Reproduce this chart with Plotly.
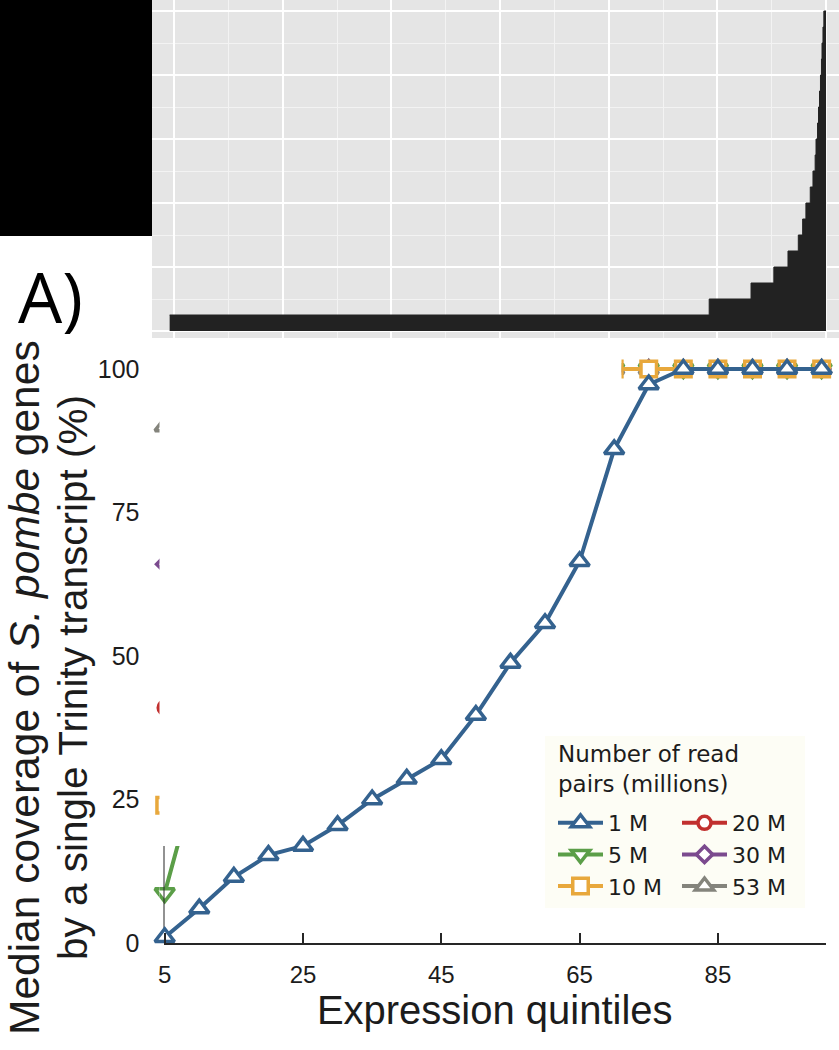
import plotly.graph_objects as go

W, H = 839, 1050
FONT = "Liberation Sans, Arial, sans-serif"
KEY_FONT = "DejaVu Sans, sans-serif"
INK = "#1c1c1c"

# Lower panel: median coverage (%) of genes by a single transcript, per expression quintile
quintiles = [5, 10, 15, 20, 25, 30, 35, 40, 45, 50, 55, 60, 65, 70, 75, 80, 85, 90, 95, 100]
cov_1m = [1, 6, 11.5, 15.3, 16.9, 20.5, 25, 28.6, 32, 39.7, 48.8, 55.7, 66.5, 86, 97.3,
          100, 100, 100, 100, 100]
cov_5m = [8.7, 37, 60, 75, 83, 88, 92, 95, 97, 98, 99, 100, 100, 100, 100,
          100, 100, 100, 100, 100]
cov_10m = [24, 62, 80, 90, 94, 96, 98, 99, 100, 100, 100, 100, 100, 100, 100,
           100, 100, 100, 100, 100]
cov_20m = [41, 80, 93, 97, 99, 100, 100, 100, 100, 100, 100, 100, 100, 100, 100,
           100, 100, 100, 100, 100]
cov_30m = [66, 92, 98, 100, 100, 100, 100, 100, 100, 100, 100, 100, 100, 100, 100,
           100, 100, 100, 100, 100]
cov_53m = [90, 99, 100, 100, 100, 100, 100, 100, 100, 100, 100, 100, 100, 100, 100,
           100, 100, 100, 100, 100]

series_names = ["1 M", "5 M", "10 M", "20 M", "30 M", "53 M"]
series_values = [cov_1m, cov_5m, cov_10m, cov_20m, cov_30m, cov_53m]
series_colors = ["#34628f", "#5b9e48", "#e8a83c", "#c1302f", "#7b4a8e", "#84847c"]
series_symbols = ["triangle-up", "triangle-down", "square", "circle", "diamond", "triangle-up"]
series_sizes = [17, 17, 15.5, 13, 12.5, 17]

# Upper panel: sorted step profile
rank_edges = [-40, 4925, 5310, 5520, 5650, 5745, 5785, 5815, 5855, 5880, 5900,
              5908, 5922, 5931, 5940, 5949, 5958, 5963, 5972, 5980, 6000]
step_heights = [1, 2, 3, 4, 5, 6, 7, 8, 9, 10, 11, 12, 13, 14, 15, 16, 17, 18, 19, 20]


def xdom(a, b):
    return [a / W, b / W]


def ydom(top, bottom):
    return [1 - bottom / H, 1 - top / H]


# pixel scale of the quintile chart
QX_PX0, QX_PER = 164.7, 6.915   # x = 5 sits at QX_PX0
QY_PX0, QY_PER = 943.0, 5.74    # y = 0 sits at QY_PX0


def qx(a, b):
    return [5 + (a - QX_PX0) / QX_PER, 5 + (b - QX_PX0) / QX_PER]


def qy(top, bottom):
    return [(QY_PX0 - bottom) / QY_PER, (QY_PX0 - top) / QY_PER]


# pixel scale of the upper panel
TX_PX0, TX_PER = 174.0, 0.10867
TY_PX0, TY_PER = 331.0, 16.0


def tx(a, b):
    return [(a - TX_PX0) / TX_PER, (b - TX_PX0) / TX_PER]


def ty(top, bottom):
    return [(TY_PX0 - bottom) / TY_PER, (TY_PX0 - top) / TY_PER]


# plot boxes (x0, x1, top, bottom) in pixels
MAIN = (163.5, 826, 340, 943)
LEFT = (100, 159.5, 340, 960)
LOW = (159.5, 839, 846, 960)
RIGHT = (621.5, 839, 340, 960)
TOP = (152, 839, 0, 338)


def series_marker(i):
    return dict(symbol=series_symbols[i], size=series_sizes[i], color="white",
                line=dict(color=series_colors[i], width=3.5))


fig = go.Figure()

# the higher read depths, drawn in the three open windows around the 1 M curve
draw_order = [5, 4, 3, 1, 2]
for k, ax in enumerate(["", "2", "3"]):
    for i in draw_order:
        fig.add_trace(go.Scatter(
            x=quintiles, y=series_values[i], name=series_names[i],
            mode="lines+markers", xaxis="x" + ax, yaxis="y" + ax,
            line=dict(color=series_colors[i], width=4), marker=series_marker(i),
            legendgroup=series_names[i], showlegend=(k == 0),
            legend="legend" if i < 3 else "legend2", legendrank=i + 1,
            cliponaxis=True, hoverinfo="skip",
        ))

# upper panel step area
fig.add_trace(go.Scatter(
    x=rank_edges, y=step_heights + [step_heights[-1]],
    mode="lines", line=dict(color="#222222", width=1, shape="hv"),
    fill="tozeroy", fillcolor="#222222",
    xaxis="x4", yaxis="y4", showlegend=False, hoverinfo="skip",
))

# 1 M curve on top
fig.add_trace(go.Scatter(
    x=quintiles, y=cov_1m, name=series_names[0], mode="lines+markers",
    xaxis="x5", yaxis="y5",
    line=dict(color=series_colors[0], width=4), marker=series_marker(0),
    legendgroup=series_names[0], legend="legend", legendrank=1,
    cliponaxis=False, hoverinfo="skip",
))

hidden = dict(visible=False, showgrid=False, zeroline=False, automargin=False)
main_x = qx(MAIN[0], MAIN[1])
low_y = qy(LOW[2], LOW[3])
key_style = dict(xanchor="left", yanchor="top", orientation="v",
                 bgcolor="rgba(0,0,0,0)", borderwidth=0,
                 font=dict(size=22, family=KEY_FONT, color=INK), itemwidth=45,
                 tracegroupgap=4, traceorder="normal")

fig.update_layout(
    template="none",
    width=W, height=H, margin=dict(l=0, r=0, t=0, b=0, autoexpand=False),
    paper_bgcolor="white", plot_bgcolor="rgba(0,0,0,0)",
    font=dict(family=FONT, color=INK),
    xaxis=dict(domain=xdom(*LEFT[:2]), range=qx(*LEFT[:2]), anchor="y", **hidden),
    yaxis=dict(domain=ydom(*LEFT[2:]), range=qy(*LEFT[2:]), anchor="x", **hidden),
    xaxis2=dict(domain=xdom(*LOW[:2]), range=qx(*LOW[:2]), anchor="y2", **hidden),
    yaxis2=dict(domain=ydom(*LOW[2:]), range=qy(*LOW[2:]), anchor="x2", **hidden),
    xaxis3=dict(domain=xdom(*RIGHT[:2]), range=qx(*RIGHT[:2]), anchor="y3", **hidden),
    yaxis3=dict(domain=ydom(*RIGHT[2:]), range=qy(*RIGHT[2:]), anchor="x3", **hidden),
    xaxis4=dict(domain=xdom(*TOP[:2]), range=tx(*TOP[:2]), anchor="y4", automargin=False,
                showticklabels=False, ticks="", zeroline=False, showline=False,
                tick0=0, dtick=1000, showgrid=True, gridcolor="white", gridwidth=2,
                minor=dict(showgrid=True, gridcolor="#f3f3f3", gridwidth=1, dtick=500)),
    yaxis4=dict(domain=ydom(*TOP[2:]), range=ty(*TOP[2:]), anchor="x4", automargin=False,
                showticklabels=False, ticks="", zeroline=False, showline=False,
                tick0=0, dtick=4, showgrid=True, gridcolor="white", gridwidth=2,
                minor=dict(showgrid=True, gridcolor="#f3f3f3", gridwidth=1, dtick=2)),
    xaxis5=dict(domain=xdom(*MAIN[:2]), range=main_x, anchor="y5", automargin=False,
                showgrid=False, zeroline=False,
                showline=True, linecolor="#262626", linewidth=2,
                ticks="inside", ticklen=10, tickwidth=2, tickcolor="#262626",
                tickvals=[5, 25, 45, 65, 85], ticktext=["5", "25", "45", "65", "85"],
                tickfont=dict(size=24, color=INK), ticklabelstandoff=9,
                title=dict(text="Expression quintiles", font=dict(size=40, color=INK),
                           standoff=3)),
    yaxis5=dict(domain=ydom(*MAIN[2:]), range=qy(*MAIN[2:]), anchor="x5", automargin=False,
                showgrid=False, zeroline=False, showline=False, ticks="",
                tickvals=[0, 25, 50, 75, 100],
                tickfont=dict(size=25, color=INK), ticklabelstandoff=23),
    legend=dict(x=553 / W, y=1 - 802 / H, **key_style),
    legend2=dict(x=677 / W, y=1 - 802 / H, **key_style),
)

shapes = [
    # grey panel background
    dict(type="rect", xref="x4 domain", yref="y4 domain", x0=0, x1=1, y0=0, y1=1,
         fillcolor="#e5e5e5", line=dict(width=0), layer="below"),
    # black block in the upper-left corner
    dict(type="rect", xref="paper", yref="paper", x0=0, x1=152 / W,
         y0=1 - 236 / H, y1=1, fillcolor="black", line=dict(width=0), layer="above"),
    # legend box
    dict(type="rect", xref="paper", yref="paper", x0=545 / W, x1=805 / W,
         y0=1 - 908 / H, y1=1 - 736 / H, fillcolor="#fdfdf5", line=dict(width=0),
         layer="above"),
    # visible stretch of the y axis line
    dict(type="line", xref="x5", yref="y5", x0=main_x[0], x1=main_x[0],
         y0=0, y1=low_y[1], line=dict(color="#262626", width=2), layer="below"),
]
fig.update_layout(shapes=shapes)

# legend heading
fig.add_annotation(text="Number of read<br>pairs (millions)", xref="paper", yref="paper",
                   x=556 / W, y=1 - 769 / H, xanchor="left", yanchor="middle", align="left",
                   showarrow=False, font=dict(family=KEY_FONT, size=23, color=INK))
fig.add_annotation(text="A)", xref="paper", yref="paper", x=16 / W, y=1 - 296 / H,
                   xanchor="left", yanchor="middle", showarrow=False,
                   font=dict(family="Open Sans, sans-serif", size=70, color="black"))
fig.add_annotation(text="Median coverage of <i>S. pombe</i> genes", textangle=-90,
                   xref="paper", yref="paper", x=24 / W, y=1 - 688 / H,
                   xanchor="center", yanchor="middle", showarrow=False,
                   font=dict(size=42.5, color=INK))
fig.add_annotation(text="by a single Trinity transcript (%)", textangle=-90,
                   xref="paper", yref="paper", x=73 / W, y=1 - 678 / H,
                   xanchor="center", yanchor="middle", showarrow=False,
                   font=dict(size=40.5, color=INK))

fig.write_html("out.html")
